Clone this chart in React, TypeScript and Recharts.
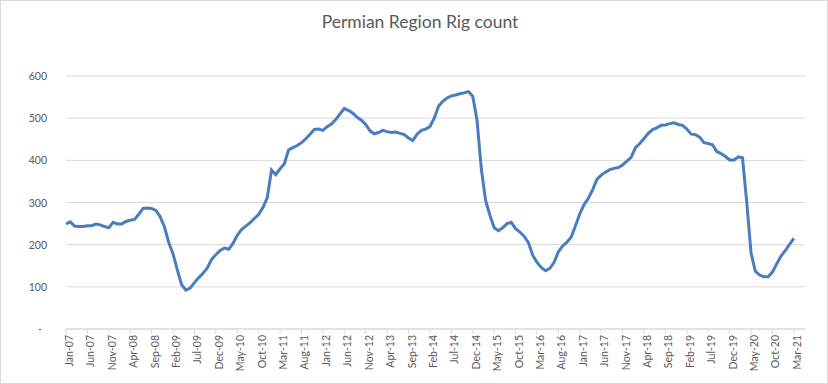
import { LineChart, Line, XAxis, YAxis, CartesianGrid } from "recharts";

// Permian rig count, monthly Jan-07 .. Mar-21
const tickLabels = [
  "Jan-07", "Jun-07", "Nov-07", "Apr-08", "Sep-08", "Feb-09", "Jul-09",
  "Dec-09", "May-10", "Oct-10", "Mar-11", "Aug-11", "Jan-12", "Jun-12",
  "Nov-12", "Apr-13", "Sep-13", "Feb-14", "Jul-14", "Dec-14", "May-15",
  "Oct-15", "Mar-16", "Aug-16", "Jan-17", "Jun-17", "Nov-17", "Apr-18",
  "Sep-18", "Feb-19", "Jul-19", "Dec-19", "May-20", "Oct-20", "Mar-21",
];

const rigCount = [
  // 2007
  249, 254, 244, 243, 243, 245, 245, 249, 247, 243, 240, 253,
  // 2008
  249, 249, 255, 258, 260, 272, 286, 287, 286, 281, 266, 242,
  // 2009
  205, 178, 140, 105, 92, 97, 110, 122, 132, 145, 165, 176,
  // 2010
  186, 192, 189, 203, 222, 236, 244, 252, 262, 272, 288, 311,
  // 2011
  377, 366, 380, 392, 425, 430, 435, 442, 451, 462, 473, 474,
  // 2012
  471, 480, 486, 497, 510, 523, 518, 512, 502, 495, 485, 470,
  // 2013
  463, 466, 471, 468, 466, 467, 464, 461, 453, 447, 462, 471,
  // 2014
  474, 480, 500, 528, 540, 548, 553, 555, 558, 560, 563, 552,
  // 2015
  495, 380, 305, 270, 240, 233, 240, 250, 253, 238, 230, 220,
  // 2016
  205, 175, 158, 146, 138, 144, 158, 183, 197, 206, 218, 245,
  // 2017
  273, 295, 310, 330, 355, 365, 372, 378, 381, 383, 389, 398,
  // 2018
  407, 430, 440, 452, 464, 473, 477, 483, 484, 487, 489, 485,
  // 2019
  483, 474, 462, 461, 455, 442, 440, 437, 421, 416, 409, 401,
  // 2020
  401, 408, 406, 300, 180, 137, 128, 124, 124, 135, 155, 173,
  // 2021
  186, 201, 215,
];

const yTicks = [0, 100, 200, 300, 400, 500, 600];

const data = rigCount.map((count, month) => ({ month, count }));
const xTicks = tickLabels.map((_, k) => k * 5);

const FONT = "Lato, 'Liberation Sans', sans-serif";
const TEXT = "#595959";
const GRID = "#d9d9d9";

function MonthTick({ x, y, payload }: any) {
  return (
    <text
      transform={`translate(${x + 7},${y}) rotate(-90)`}
      textAnchor="end"
      fontSize={10.5}
      fontFamily={FONT}
      fill={TEXT}
    >
      {tickLabels[payload.value / 5]}
    </text>
  );
}

function CountTick({ x, y, payload }: any) {
  const zero = payload.value === 0;
  return (
    <text
      x={zero ? x - 5 : x}
      y={y}
      dy={4}
      textAnchor="end"
      fontSize={10.5}
      fontFamily={FONT}
      fill={TEXT}
    >
      {zero ? "-" : payload.value}
    </text>
  );
}

export default function App() {
  return (
    <div style={{ position: "relative", width: 828, height: 384, background: "#fff" }}>
      <style>{"body{margin:0}"}</style>
      <div
        style={{
          position: "absolute",
          left: 0,
          top: 0,
          width: 826,
          height: 382,
          border: `1px solid ${GRID}`,
        }}
      />
      <svg width={828} height={40} style={{ position: "absolute", left: 0, top: 0 }}>
        <text x={420} y={28} textAnchor="middle" fontSize={17.5} fontFamily={FONT} fill={TEXT}>
          Permian Region Rig count
        </text>
      </svg>
      <LineChart
        width={828}
        height={384}
        data={data}
        margin={{ top: 76, right: 23, bottom: 5, left: 0 }}
        style={{ position: "absolute", left: 0, top: 0 }}
      >
        <CartesianGrid horizontal vertical={false} stroke={GRID} />
        <XAxis
          type="number"
          dataKey="month"
          domain={[0, 172.6]}
          ticks={xTicks}
          interval={0}
          tick={<MonthTick />}
          tickSize={5}
          tickMargin={1}
          stroke={GRID}
          height={50}
        />
        <YAxis
          domain={[0, 600]}
          ticks={yTicks}
          tick={<CountTick />}
          axisLine={false}
          tickLine={false}
          tickMargin={13}
          width={66}
        />
        <Line
          type="linear"
          dataKey="count"
          stroke="#4a7dbf"
          strokeWidth={3}
          dot={false}
          isAnimationActive={false}
        />
      </LineChart>
    </div>
  );
}
